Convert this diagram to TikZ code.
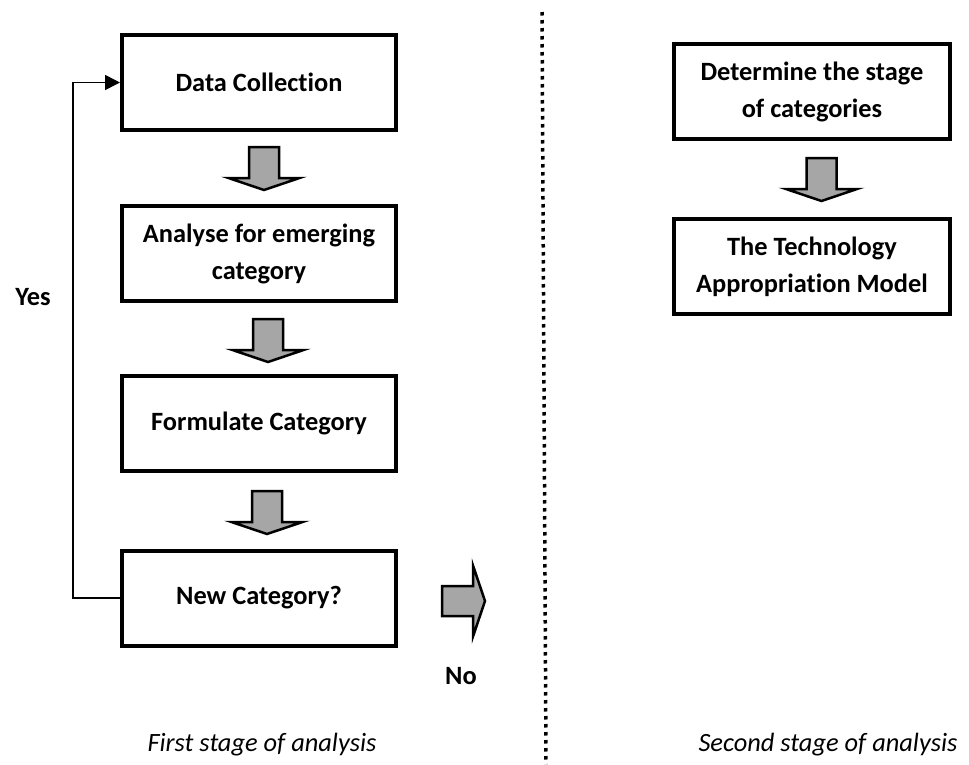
\documentclass[tikz,border=0pt]{standalone}
\usepackage{fontspec}
\setmainfont{Carlito}[Ligatures={NoCommon,NoRare,NoContextual}]
\usetikzlibrary{arrows.meta}

\definecolor{arrowgray}{HTML}{A6A6A6}

\tikzset{
    stepbox/.style={draw, line width=4pt, minimum width=274pt, minimum height=95pt,
        inner sep=0pt, align=center, font=\fontsize{26.4}{37}\selectfont\bfseries},
    lbl/.style={font=\fontsize{26.4}{37}\selectfont\bfseries},
    caption/.style={font=\fontsize{26.4}{30}\selectfont\itshape},
    yesline/.style={line width=1.6pt, -{Triangle[length=15pt, width=15pt]}},
    divider/.style={line width=3.5pt, dash pattern=on 3.5pt off 4.5pt},
    pics/fatarrow/.style={code={
        \draw[fill=arrowgray, line width=2.5pt]
            (-15,0) -- (15,0) -- (15,31) -- (35.5,31) -- (0,43) -- (-35.5,31) -- (-15,31) -- cycle;
    }}
}

\begin{document}
\begin{tikzpicture}[x=1pt, y=-1pt]
                            \useasboundingbox (0,0) rectangle (969,764);

                            \node[stepbox] (dc) at (259,82.5) {Data Collection};
                            \node[stepbox] (ae) at (259,253.5) {Analyse for emerging\\category};
                            \node[stepbox] (fc) at (259,423.5) {Formulate Category};
                            \node[stepbox] (nc) at (259,598) {New Category?};

                            \node[stepbox, minimum width=276pt] (ds) at (812,91.5) {Determine the stage\\of categories};
                            \node[stepbox, minimum width=276pt] (tam) at (812,266.5) {The Technology\\Appropriation Model};

                            \pic at ([shift={(5,15)}]dc.south) {fatarrow};
                            \pic at ([shift={(9,16)}]ae.south) {fatarrow};
                            \pic at ([shift={(8,18)}]fc.south) {fatarrow};
                            \pic at ([shift={(9.5,17)}]ds.south) {fatarrow};
                            \pic[rotate=90] at ([shift={(44,3)}]nc.east) {fatarrow};

                            \draw[yesline] (nc.west) -- ++(-47,0) |- (dc.west);

                            \node[lbl] (yes) at (33,297) {Yes};
                            \node[lbl] (no) at (461,676) {No};

                            \draw[divider] (542,12) -- (546,764);

                            \node[caption] (first) at (262,745) {First stage of analysis};
                            \node[caption] (second) at (828,745) {Second stage of analysis};
                        \end{tikzpicture}
\end{document}
